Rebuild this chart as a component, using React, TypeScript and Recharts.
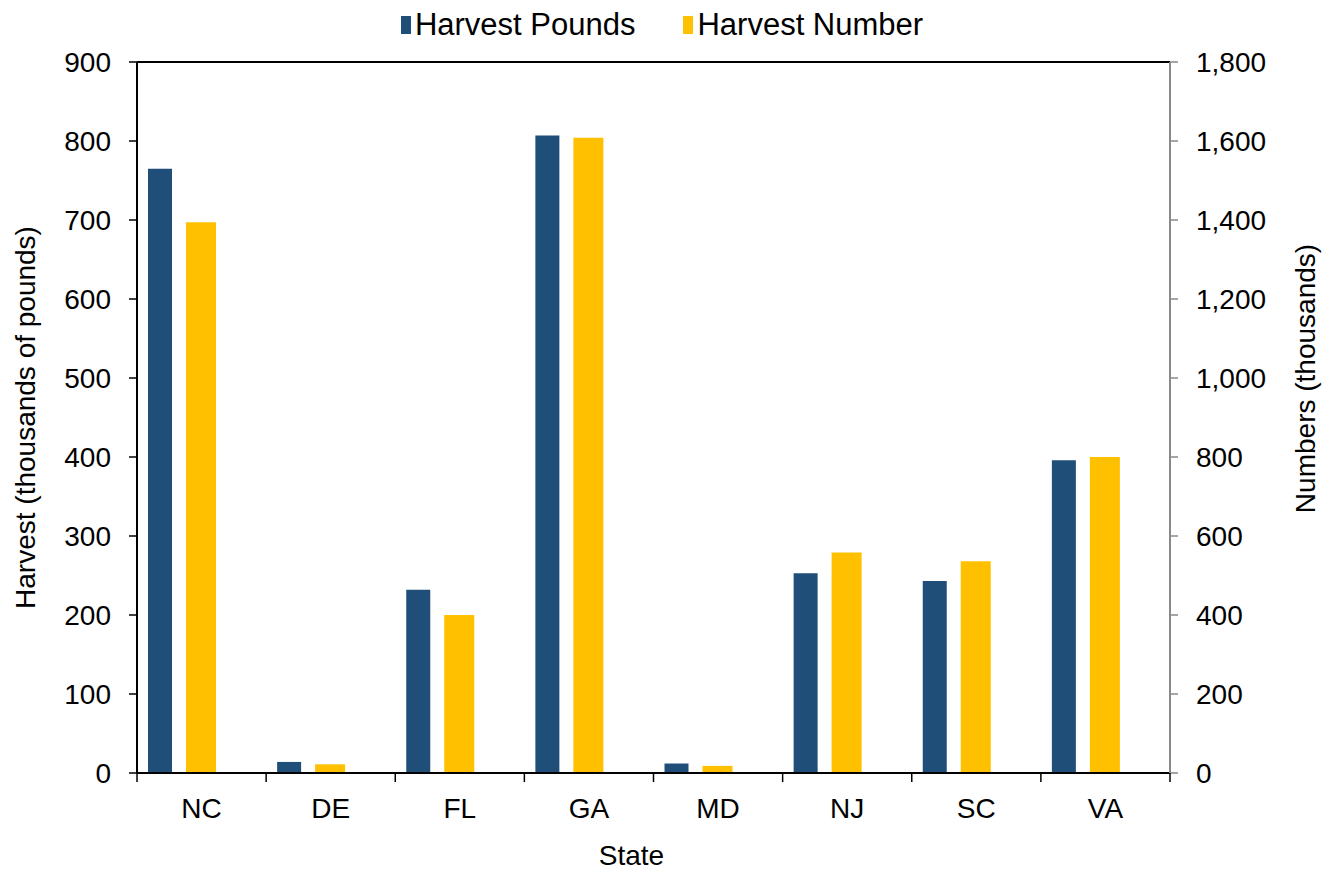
import { Bar, BarChart, Label, Legend, ReferenceLine, XAxis, YAxis } from 'recharts';

const states = ['NC', 'DE', 'FL', 'GA', 'MD', 'NJ', 'SC', 'VA'];
const harvestPounds = [765, 14, 232, 807, 12, 253, 243, 396];
const harvestNumber = [1394, 22, 400, 1608, 18, 558, 536, 800];
const leftTicks = [0, 100, 200, 300, 400, 500, 600, 700, 800, 900];
const rightTicks = [0, 200, 400, 600, 800, 1000, 1200, 1400, 1600, 1800];

const data = states.map((state, i) => ({
  state,
  pounds: harvestPounds[i],
  number: harvestNumber[i]
}));

const BLUE = '#1F4E79';
const YELLOW = '#FFC000';
const FONT = "'Liberation Sans', Arial, sans-serif";

function SideTitle(props: any) {
  const { viewBox, text, posX, shiftY } = props;
  const cy = viewBox.y + viewBox.height / 2 + shiftY;
  return (
    <text
      x={posX}
      y={cy}
      transform={`rotate(-90, ${posX}, ${cy})`}
      textAnchor="middle"
      dominantBaseline="central"
      fontSize={28}
      fill="#000"
    >
      {text}
    </text>
  );
}

// category tick: label at the centre, tick marks on the category edges (Excel style)
function StateTick(props: any) {
  const { x, y, width, visibleTicksCount, index, payload } = props;
  const band = width / visibleTicksCount;
  const left = x - band / 2;
  return (
    <g>
      <line x1={left} x2={left} y1={y} y2={y + 9} stroke="#000" strokeWidth={1.5} />
      {index === visibleTicksCount - 1 ? (
        <line x1={left + band} x2={left + band} y1={y} y2={y + 9} stroke="#000" strokeWidth={1.5} />
      ) : null}
      <text x={x} y={y + 45} textAnchor="middle" fontSize={28} fill="#000">
        {payload.value}
      </text>
    </g>
  );
}

function LegendBox() {
  const items = [
    { label: 'Harvest Pounds', color: BLUE },
    { label: 'Harvest Number', color: YELLOW }
  ];
  return (
    <div
      style={{
        height: 50,
        display: 'flex',
        justifyContent: 'center',
        alignItems: 'center',
        gap: 48,
        fontSize: 31,
        color: '#000',
        paddingRight: 10
      }}
    >
      {items.map((item) => (
        <div key={item.label} style={{ display: 'flex', alignItems: 'center' }}>
          <span style={{ width: 10, height: 18, background: item.color, marginRight: 4 }} />
          <span>{item.label}</span>
        </div>
      ))}
    </div>
  );
}

export default function App() {
  return (
    <div style={{ position: 'absolute', left: 0, top: 0, fontFamily: FONT }}>
      <BarChart
        width={1334}
        height={875}
        data={data}
        margin={{ top: 12, right: 0, bottom: 0, left: 0 }}
        barGap={14}
      >
        <Legend verticalAlign="top" content={() => <LegendBox />} wrapperStyle={{ top: 0, left: 0, width: 1334 }} />
        <XAxis
          dataKey="state"
          height={102}
          interval={0}
          tickLine={false}
          tickSize={0}
          tickMargin={0}
          axisLine={{ stroke: '#000', strokeWidth: 2 }}
          tick={<StateTick />}
        >
          <Label value="State" position="insideBottom" offset={10} dx={-22} fontSize={28} fill="#000" />
        </XAxis>
        <YAxis
          yAxisId="left"
          width={137}
          domain={[0, 900]}
          ticks={leftTicks}
          interval={0}
          axisLine={{ stroke: '#000', strokeWidth: 2 }}
          tickLine={{ stroke: '#000', strokeWidth: 1.5 }}
          tickSize={8}
          tickMargin={18}
          tick={{ fontSize: 28, fill: '#000' }}
        >
          <Label content={<SideTitle text="Harvest (thousands of pounds)" posX={25} shiftY={0} />} />
        </YAxis>
        <YAxis
          yAxisId="right"
          orientation="right"
          width={164}
          domain={[0, 1800]}
          ticks={rightTicks}
          interval={0}
          tickFormatter={(v: number) => v.toLocaleString('en-US')}
          axisLine={{ stroke: '#898989', strokeWidth: 2 }}
          tickLine={{ stroke: '#898989', strokeWidth: 1.5 }}
          tickSize={8}
          tickMargin={18}
          tick={{ fontSize: 28, fill: '#000' }}
        >
          <Label content={<SideTitle text="Numbers (thousands)" posX={1305} shiftY={-39} />} />
        </YAxis>
        <ReferenceLine yAxisId="left" y={900} stroke="#000" strokeWidth={2} />
        <Bar yAxisId="left" dataKey="pounds" name="Harvest Pounds" fill={BLUE} barSize={24} isAnimationActive={false} />
        <Bar yAxisId="right" dataKey="number" name="Harvest Number" fill={YELLOW} barSize={30} isAnimationActive={false} />
        <Bar yAxisId="left" dataKey="spacer" fill="none" legendType="none" barSize={25} isAnimationActive={false} />
      </BarChart>
    </div>
  );
}
